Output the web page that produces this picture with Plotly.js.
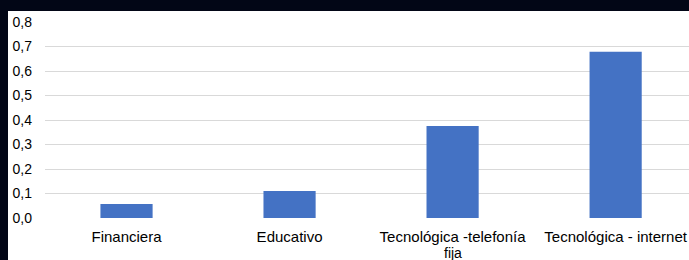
<!DOCTYPE html>
<html>
<head>
<meta charset="utf-8">
<script src="https://cdn.plot.ly/plotly-3.0.1.min.js"></script>
<style>
html,body{margin:0;padding:0;background:#020616;width:689px;height:260px;overflow:hidden;}
#chart{position:absolute;left:8px;top:11px;width:681px;height:249px;background:#fff;}
</style>
</head>
<body>
<div id="chart"></div>
<script>
const categories = ["Financiera", "Educativo", "Tecnológica -telefonía fija", "Tecnológica - internet"];
const tickLines = ["Financiera", "Educativo", "Tecnológica -telefonía", "Tecnológica - internet"];
const secondLines = ["", "", "fija", ""];
const values = [0.057, 0.11, 0.376, 0.679];
const yTicks = [0, 0.1, 0.2, 0.3, 0.4, 0.5, 0.6, 0.7, 0.8];

const annotations = secondLines.map((t, i) => ({
  text: t, x: categories[i], xref: 'x', y: -0.177, yref: 'paper',
  xanchor: 'center', yanchor: 'middle', showarrow: false, borderpad: 0,
  font: {size: 14, color: '#000'}
})).filter(a => a.text);

Plotly.newPlot('chart', [{
  type: 'bar',
  x: categories,
  y: values,
  width: 0.32,
  marker: {color: '#4472C4'},
  hoverinfo: 'none'
}], {
  width: 681,
  height: 249,
  margin: {l: 37, r: 0, t: 11, b: 42},
  paper_bgcolor: '#ffffff',
  plot_bgcolor: '#ffffff',
  separators: ',.',
  showlegend: false,
  font: {family: 'Liberation Sans, Arial, sans-serif', size: 15, color: '#000'},
  annotations: annotations,
  xaxis: {
    type: 'category',
    range: [-0.5, 3.45],
    tickvals: categories,
    ticktext: tickLines,
    showgrid: false,
    showline: false,
    ticks: '',
    ticklabelstandoff: 8,
    tickfont: {size: 15, color: '#000'},
    fixedrange: true
  },
  yaxis: {
    range: [0, 0.8],
    tickvals: yTicks,
    tickformat: '.1f',
    showgrid: true,
    gridcolor: '#d9d9d9',
    gridwidth: 1,
    zeroline: false,
    showline: false,
    ticks: '',
    ticklabelstandoff: 12,
    tickfont: {size: 14, color: '#000'},
    fixedrange: true
  }
}, {displayModeBar: false, staticPlot: true});
</script>
</body>
</html>
